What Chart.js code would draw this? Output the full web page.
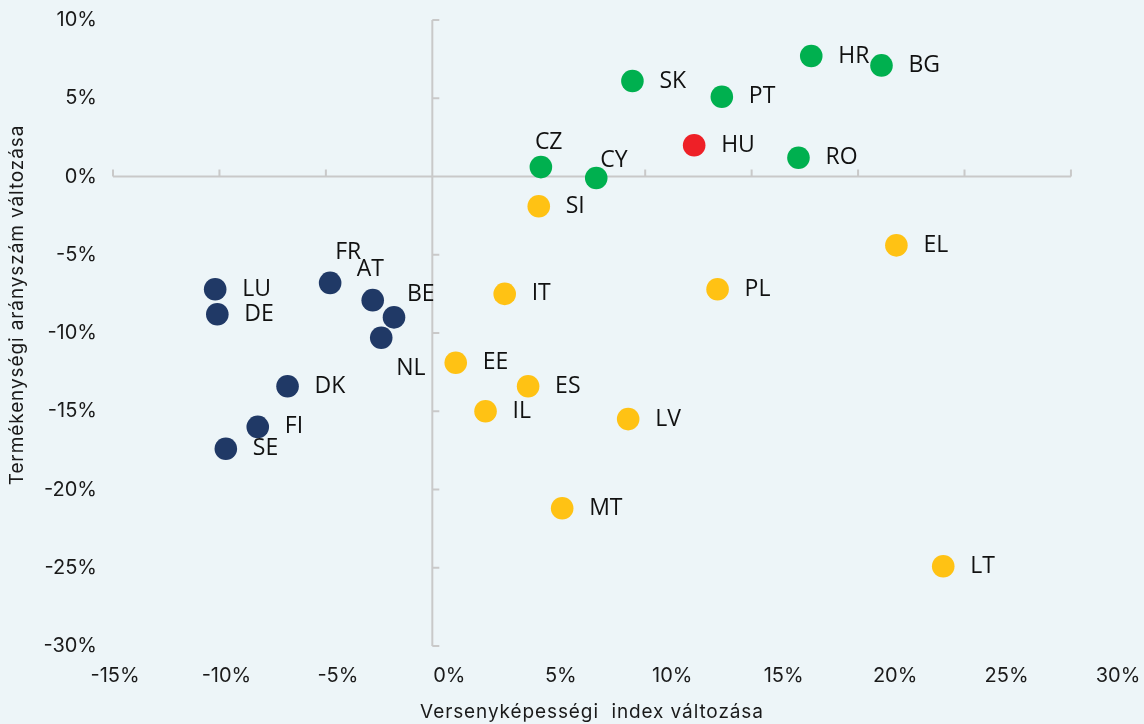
<!DOCTYPE html>
<html>
<head>
<meta charset="utf-8">
<script src="https://cdn.jsdelivr.net/npm/chart.js@4"></script>
<style>
  html, body { margin: 0; padding: 0; background: #EDF5F8; }
  #wrap { width: 1144px; height: 724px; }
</style>
</head>
<body>
<div id="wrap"><canvas id="chart"></canvas></div>
<script>
// country codes and values (% change) per colour group
const greenCodes = ['HR', 'BG', 'SK', 'PT', 'CZ', 'CY', 'RO'];
const greenX = [17.8, 21.1, 9.4, 13.6, 5.1, 7.7, 17.2];
const greenY = [7.7, 7.1, 6.1, 5.1, 0.6, -0.1, 1.2];

const redCodes = ['HU'];
const redX = [12.3];
const redY = [2.0];

const yellowCodes = ['SI', 'EL', 'IT', 'PL', 'EE', 'ES', 'IL', 'LV', 'MT', 'LT'];
const yellowX = [5.0, 21.8, 3.4, 13.4, 1.1, 4.5, 2.5, 9.2, 6.1, 24.0];
const yellowY = [-1.9, -4.4, -7.5, -7.2, -11.9, -13.4, -15.0, -15.5, -21.2, -24.9];

const navyCodes = ['LU', 'DE', 'FR', 'AT', 'BE', 'NL', 'DK', 'FI', 'SE'];
const navyX = [-10.2, -10.1, -4.8, -2.8, -1.8, -2.4, -6.8, -8.2, -9.7];
const navyY = [-7.2, -8.8, -6.8, -7.9, -9.0, -10.3, -13.4, -16.0, -17.4];

const xTicks = [-15, -10, -5, 0, 5, 10, 15, 20, 25, 30];
const yTicks = [10, 5, 0, -5, -10, -15, -20, -25, -30];

const xTitle = 'Versenyképességi  index változása';
const yTitle = 'Termékenységi arányszám változása';

// label placement: [dx of text start, dy of text middle] from the dot
const labelOffsets = { CZ: [-6, -25], CY: [4, -18], FR: [5, -30], AT: [-16, -31], BE: [13, -23], NL: [15, 31] };
const defaultOffset = [27, 0];

function toPoints(xs, ys) {
  return xs.map((v, i) => ({ x: v, y: ys[i] }));
}

function makeSet(codes, xs, ys, color) {
  return {
    data: toPoints(xs, ys),
    codes: codes,
    backgroundColor: color,
    borderWidth: 0,
    pointRadius: 11.3,
    pointHoverRadius: 11.3
  };
}

const axisFont = "Inter, 'Open Sans', sans-serif";

const crossAxes = {
  id: 'crossAxes',
  beforeDatasetsDraw(chart) {
    const { ctx } = chart;
    const sx = chart.scales.x, sy = chart.scales.y;
    const x0 = sx.getPixelForValue(0), y0 = sy.getPixelForValue(0);
    ctx.save();
    ctx.strokeStyle = '#C9C9C9';
    ctx.lineWidth = 2;
    ctx.beginPath();
    ctx.moveTo(sx.getPixelForValue(xTicks[0]), y0);
    ctx.lineTo(sx.getPixelForValue(xTicks[xTicks.length - 1]), y0);
    xTicks.forEach(v => {
      const px = sx.getPixelForValue(v);
      ctx.moveTo(px, y0);
      ctx.lineTo(px, y0 - 7);
    });
    ctx.moveTo(x0, sy.getPixelForValue(yTicks[0]));
    ctx.lineTo(x0, sy.getPixelForValue(yTicks[yTicks.length - 1]));
    yTicks.forEach(v => {
      const py = sy.getPixelForValue(v);
      ctx.moveTo(x0, py);
      ctx.lineTo(x0 + 7, py);
    });
    ctx.stroke();

    // axis titles
    ctx.fillStyle = '#1a1a1a';
    ctx.font = '19px ' + axisFont;
    ctx.letterSpacing = '0.9px';
    ctx.textAlign = 'center';
    ctx.textBaseline = 'middle';
    const midX = (sx.getPixelForValue(xTicks[0]) + sx.getPixelForValue(xTicks[xTicks.length - 1])) / 2;
    ctx.fillText(xTitle, midX, 712);
    ctx.translate(17, 305);
    ctx.rotate(-Math.PI / 2);
    ctx.fillText(yTitle, 0, 0);
    ctx.restore();
  }
};

const pointLabels = {
  id: 'pointLabels',
  afterDatasetsDraw(chart) {
    const { ctx } = chart;
    ctx.save();
    ctx.fillStyle = '#111';
    ctx.font = "23px 'Open Sans', sans-serif";
    ctx.textAlign = 'left';
    ctx.textBaseline = 'middle';
    chart.data.datasets.forEach((ds, di) => {
      chart.getDatasetMeta(di).data.forEach((el, i) => {
        const code = ds.codes[i];
        const off = labelOffsets[code] || defaultOffset;
        ctx.fillText(code, el.x + off[0], el.y + off[1]);
      });
    });
    ctx.restore();
  }
};

new Chart(document.getElementById('chart'), {
  type: 'scatter',
  data: {
    datasets: [
      makeSet(greenCodes, greenX, greenY, '#00B04F'),
      makeSet(redCodes, redX, redY, '#EE2027'),
      makeSet(yellowCodes, yellowX, yellowY, '#FFC214'),
      makeSet(navyCodes, navyX, navyY, '#203966')
    ]
  },
  options: {
    responsive: true,
    maintainAspectRatio: false,
    animation: false,
    layout: { padding: { top: 20, right: 26, bottom: 0, left: 0 } },
    plugins: {
      legend: { display: false },
      tooltip: { enabled: false }
    },
    scales: {
      // data scale: axis line runs -15..30 over 113..1071 px, the plot area reaches 1118
      x: {
        type: 'linear',
        display: false,
        min: -15,
        max: 32.21
      },
      // tick-label scale (the labels in the original are spread a bit wider than the axis)
      xt: {
        type: 'linear',
        position: 'bottom',
        axis: 'x',
        min: -15.09,
        max: 30,
        grid: { display: false, drawTicks: false },
        border: { display: false },
        afterBuildTicks: s => { s.ticks = xTicks.map(v => ({ value: v })); },
        afterFit: s => { s.height = 78; s.paddingLeft = 0; s.paddingRight = 0; },
        ticks: {
          padding: 18,
          color: '#1a1a1a',
          font: { family: axisFont, size: 20 },
          callback: v => v + '%'
        }
      },
      y: {
        type: 'linear',
        position: 'left',
        min: -30,
        max: 10,
        grid: { display: false, drawTicks: false },
        border: { display: false },
        afterBuildTicks: s => { s.ticks = yTicks.map(v => ({ value: v })); },
        afterFit: s => { s.width = 113; s.paddingTop = 0; s.paddingBottom = 0; },
        ticks: {
          padding: 16,
          color: '#1a1a1a',
          font: { family: axisFont, size: 20 },
          callback: v => v + '%'
        }
      }
    }
  },
  plugins: [crossAxes, pointLabels]
});
</script>
</body>
</html>
